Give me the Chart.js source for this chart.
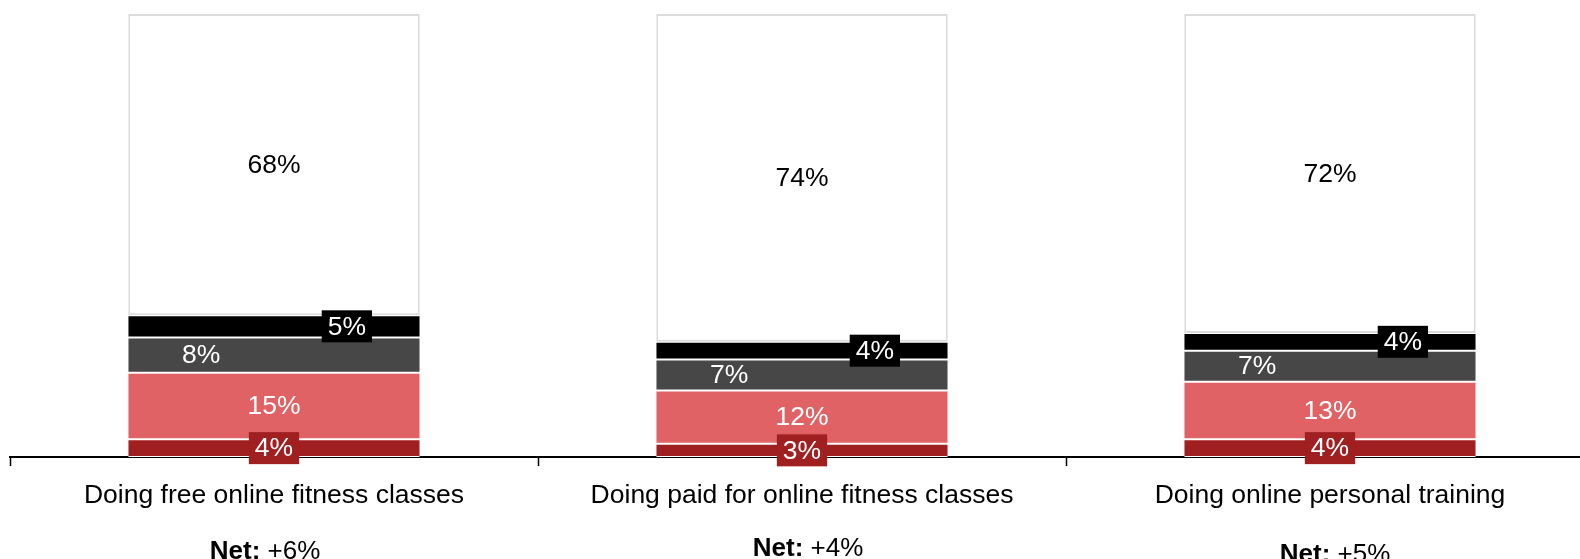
<!DOCTYPE html>
<html>
<head>
<meta charset="utf-8">
<title>Online fitness</title>
<script src="https://cdn.jsdelivr.net/npm/chart.js@4.4.1/dist/chart.umd.min.js"></script>
<style>
    html, body { margin: 0; padding: 0; background: #fff; overflow: hidden; }
    #wrap { width: 1605px; height: 559px; }
</style>
</head>
<body>
<div id="wrap"><canvas id="fitnessChart" width="1605" height="559"></canvas></div>
<script>
const categories = [
    "Doing free online fitness classes",
    "Doing paid for online fitness classes",
    "Doing online personal training",
];

// stacked from the bottom up
const muchLess = [4, 3, 4];
const bitLess = [15, 12, 13];
const bitMore = [8, 7, 7];
const muchMore = [5, 4, 4];
const noChange = [68, 74, 72];

const netLabels = ["+6%", "+4%", "+5%"];

const FONT = "'Liberation Sans', Arial, sans-serif";
const TEXT_SIZE = 26.5;

// how each segment's value label is placed: where across the bar, boxed or not
const labelStyle = [
    { pos: 0, box: true, color: "#fff" },
    { pos: 0, box: false, color: "#fff" },
    { pos: -0.25, box: false, color: "#fff" },
    { pos: 0.25, box: true, color: "#fff" },
    { pos: 0, box: false, color: "#000" },
];

// small shifts of the "Net" lines below the axis
const netDrop = [95, 92, 98];
const netShift = [-9, 6, 5];

const segmentLabels = {
    id: "segmentLabels",
    afterDatasetsDraw(chart) {
        const ctx = chart.ctx;
        ctx.save();
        ctx.font = `${TEXT_SIZE}px ${FONT}`;
        ctx.textAlign = "center";
        ctx.textBaseline = "middle";
        chart.data.datasets.forEach((ds, di) => {
            const meta = chart.getDatasetMeta(di);
            const st = labelStyle[di];
            meta.data.forEach((bar, i) => {
                const p = bar.getProps(["x", "y", "base", "width"], true);
                const x = p.x + p.width * st.pos;
                const y = (p.y + p.base) / 2;
                const txt = ds.data[i] + "%";
                if (st.box) {
                    const w = ctx.measureText(txt).width + 12;
                    ctx.fillStyle = ds.backgroundColor;
                    ctx.fillRect(x - w / 2, y - 16, w, 32);
                }
                ctx.fillStyle = st.color;
                ctx.fillText(txt, x, y + 1);
            });
        });
        ctx.restore();
    },
    afterDraw(chart) {
        const ctx = chart.ctx;
        const xs = chart.scales.x;
        ctx.save();
        ctx.textBaseline = "middle";
        ctx.textAlign = "left";
        ctx.fillStyle = "#000";
        netLabels.forEach((v, i) => {
            const cx = xs.getPixelForValue(i) + netShift[i];
            const y = chart.chartArea.bottom + netDrop[i];
            const head = "Net: ";
            ctx.font = `bold 26px ${FONT}`;
            const hw = ctx.measureText(head).width;
            ctx.font = `26px ${FONT}`;
            const vw = ctx.measureText(v).width;
            const x = cx - (hw + vw) / 2;
            ctx.font = `bold 26px ${FONT}`;
            ctx.fillText(head, x, y);
            ctx.font = `26px ${FONT}`;
            ctx.fillText(v, x + hw, y);
        });
        ctx.restore();
    },
};

function segment(label, data, color, border, width) {
    return {
        label: label,
        data: data,
        backgroundColor: color,
        borderColor: border,
        borderWidth: width,
        borderSkipped: false,
    };
}

const seam = { top: 1, bottom: 1, left: 0, right: 0 };

new Chart(document.getElementById("fitnessChart"), {
    type: "bar",
    data: {
        labels: categories,
        datasets: [
            segment("Much less", muchLess, "#a01f21", "#fff", seam),
            segment("A bit less", bitLess, "#e06264", "#fff", seam),
            segment("A bit more", bitMore, "#474747", "#fff", seam),
            segment("Much more", muchMore, "#000000", "#fff", seam),
            segment("No change", noChange, "#ffffff", "#dcdcdc", 2),
        ],
    },
    options: {
        responsive: false,
        animation: false,
        devicePixelRatio: 1,
        layout: { padding: { left: 10, right: 11, top: 14, bottom: 0 } },
        datasets: {
            bar: { categoryPercentage: 1, barPercentage: 0.552 },
        },
        plugins: {
            legend: { display: false },
            tooltip: { enabled: false },
        },
        scales: {
            x: {
                stacked: true,
                grid: {
                    drawOnChartArea: false,
                    drawTicks: true,
                    tickLength: 9,
                    tickColor: "#000",
                    tickWidth: 1.5,
                },
                border: { color: "#000", width: 2 },
                ticks: {
                    color: "#000",
                    font: { family: FONT, size: TEXT_SIZE },
                    padding: 14,
                    maxRotation: 0,
                    autoSkip: false,
                },
                afterFit(scale) {
                    scale.height = 102;
                },
            },
            y: {
                stacked: true,
                display: false,
                min: 0,
                max: 100,
            },
        },
    },
    plugins: [segmentLabels],
});
</script>
</body>
</html>
